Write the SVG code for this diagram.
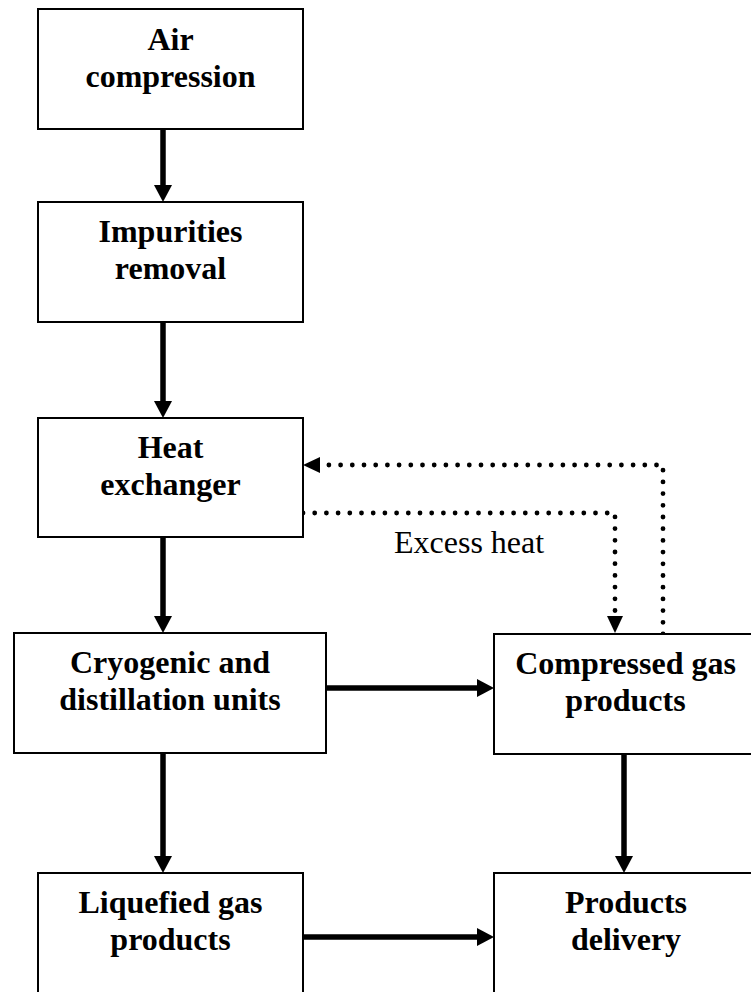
<svg xmlns="http://www.w3.org/2000/svg" width="751" height="992" viewBox="0 0 751 992">
  <style>
    .box { fill: #ffffff; stroke: #000000; stroke-width: 2; }
    .label { font-family: "Liberation Serif", "Times New Roman", serif; font-size: 32px; font-weight: bold; fill: #000000; text-anchor: middle; }
    .note { font-family: "Liberation Serif", "Times New Roman", serif; font-size: 32px; fill: #000000; }
    .flow { stroke: #000000; stroke-width: 5.5; fill: none; marker-end: url(#head); }
    .heat { stroke: #000000; stroke-width: 4.8; fill: none; stroke-linecap: round; stroke-dasharray: 0 11.7; marker-end: url(#dothead); }
  </style>
  <defs>
    <marker id="head" markerUnits="userSpaceOnUse" markerWidth="17" markerHeight="18" refX="0" refY="9" orient="auto" overflow="visible">
      <path d="M0,0 L17,9 L0,18 Z" fill="#000000"/>
    </marker>
    <marker id="dothead" markerUnits="userSpaceOnUse" markerWidth="17" markerHeight="16" refX="0" refY="8" orient="auto" overflow="visible">
      <path d="M0,0 L17,8 L0,16 Z" fill="#000000"/>
    </marker>
  </defs>

  <rect width="751" height="992" fill="#ffffff"/>

  <g id="connectors">
    <line class="flow" x1="163" y1="129" x2="163" y2="185"/>
    <line class="flow" x1="163" y1="322" x2="163" y2="401"/>
    <line class="flow" x1="163" y1="537" x2="163" y2="616"/>
    <line class="flow" x1="163" y1="753" x2="163" y2="856"/>
    <line class="flow" x1="624" y1="754" x2="624" y2="856"/>
    <line class="flow" x1="326" y1="688" x2="477" y2="688"/>
    <line class="flow" x1="303" y1="937" x2="477" y2="937"/>
    <!-- heat return loop -->
    <path class="heat" d="M663,634 V465 H320"/>
    <path class="heat" d="M303,513 H615 V616"/>
    <text class="note" x="394" y="553">Excess heat</text>
  </g>

  <g id="air-compression">
    <rect class="box" x="38" y="9" width="265" height="120"/>
    <text class="label" x="170.5" y="50">Air</text>
    <text class="label" x="170.5" y="87">compression</text>
  </g>

  <g id="impurities-removal">
    <rect class="box" x="38" y="202" width="265" height="120"/>
    <text class="label" x="170.5" y="242">Impurities</text>
    <text class="label" x="170.5" y="279">removal</text>
  </g>

  <g id="heat-exchanger">
    <rect class="box" x="38" y="418" width="265" height="119"/>
    <text class="label" x="170.5" y="458">Heat</text>
    <text class="label" x="170.5" y="495">exchanger</text>
  </g>

  <g id="cryogenic-distillation">
    <rect class="box" x="14" y="633" width="312" height="120"/>
    <text class="label" x="170" y="673">Cryogenic and</text>
    <text class="label" x="170" y="710">distillation units</text>
  </g>

  <g id="compressed-gas">
    <rect class="box" x="494" y="634" width="270" height="120"/>
    <text class="label" x="625.5" y="674">Compressed gas</text>
    <text class="label" x="625.5" y="711">products</text>
  </g>

  <g id="liquefied-gas">
    <rect class="box" x="38" y="873" width="265" height="130"/>
    <text class="label" x="170.5" y="913">Liquefied gas</text>
    <text class="label" x="170.5" y="950">products</text>
  </g>

  <g id="products-delivery">
    <rect class="box" x="494" y="873" width="270" height="130"/>
    <text class="label" x="626" y="913">Products</text>
    <text class="label" x="626" y="950">delivery</text>
  </g>
</svg>
